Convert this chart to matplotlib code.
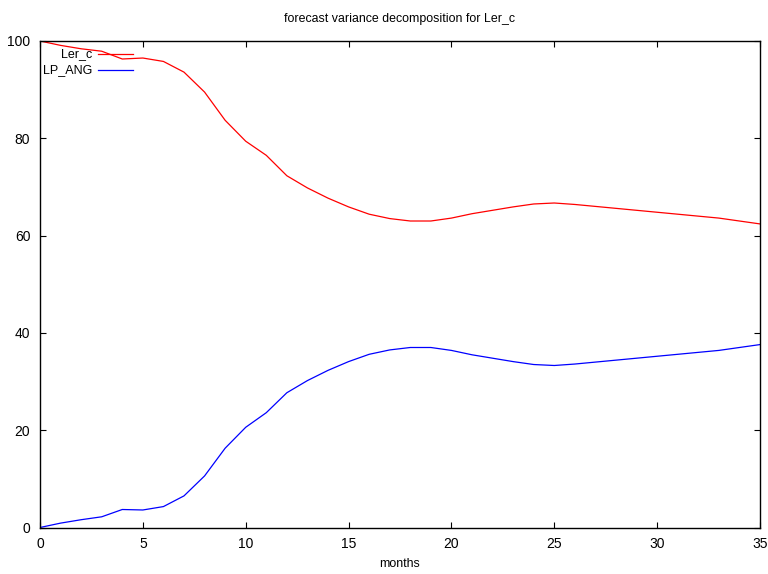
import matplotlib.pyplot as plt
import numpy as np

months = list(range(0, 36))
ler_c = [100.0, 99.1, 98.4, 97.9, 96.3, 96.5, 95.8, 93.6, 89.5, 83.7,
         79.4, 76.5, 72.3, 69.8, 67.7, 65.9, 64.4, 63.5, 63.0, 63.0,
         63.6, 64.5, 65.2, 65.9, 66.5, 66.7, 66.4, 66.0, 65.6, 65.2,
         64.8, 64.4, 64.0, 63.6, 63.0, 62.4]
lp_ang = [0.0, 0.9, 1.6, 2.2, 3.7, 3.6, 4.3, 6.5, 10.6, 16.3,
          20.6, 23.6, 27.7, 30.2, 32.3, 34.1, 35.6, 36.5, 37.0, 37.0,
          36.4, 35.5, 34.8, 34.1, 33.5, 33.3, 33.6, 34.0, 34.4, 34.8,
          35.2, 35.6, 36.0, 36.4, 37.0, 37.6]

series_names = ["Ler_c", "LP_ANG"]
series_colors = ["red", "blue"]

plt.rcParams['font.family'] = ['Liberation Sans', 'DejaVu Sans']

fig = plt.figure(figsize=(7.68, 5.74), dpi=100)
ax = fig.add_axes([40 / 768, 1 - 527.5 / 574, 720 / 768, 486.5 / 574])

for vals, name, col in zip([ler_c, lp_ang], series_names, series_colors):
    ax.plot(months, vals, color=col, linewidth=0.9)

ax.set_xlim(0, 35)
ax.set_ylim(0, 100)
ax.set_xticks(range(0, 36, 5))
ax.set_yticks(range(0, 101, 20))
ax.tick_params(direction='in', top=True, right=True, length=4, width=0.8,
               labelsize=10, colors='black', pad=7)
for s in ax.spines.values():
    s.set_linewidth(1.0)

ax.set_title("forecast variance decomposition for Ler_c", fontsize=8.9, pad=14)
ax.set_xlabel("months", fontsize=8.9, labelpad=5)

# gnuplot style key: right-aligned labels, sample line to the right
for i, (name, col) in enumerate(zip(series_names, series_colors)):
    yk = 0.973 - i * 0.033
    ax.text(0.072, yk, name, transform=ax.transAxes, ha='right', va='center', fontsize=9)
    ax.plot([0.080, 0.129], [yk, yk], transform=ax.transAxes, color=col, linewidth=0.9)

fig.savefig("out.png", dpi=100)
